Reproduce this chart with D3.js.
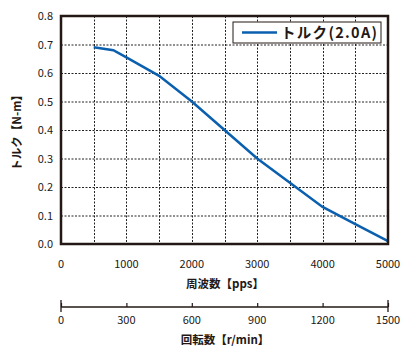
<!DOCTYPE html>
<html>
<head>
<meta charset="utf-8">
<script src="https://cdn.jsdelivr.net/npm/d3@7"></script>
<style>
body { margin:0; background:#fff; }
text { font-family: "Noto Sans CJK JP", "Noto Sans", sans-serif; fill:#231815; }
</style>
</head>
<body>
<svg width="416" height="360"></svg>
<script>
// torque curve
var pps = [500, 800, 1000, 1500, 2000, 2500, 3000, 3500, 4000, 4500, 5000];
var torque = [0.69, 0.68, 0.655, 0.59, 0.50, 0.40, 0.30, 0.215, 0.13, 0.07, 0.01];
var xTicks = [0, 1000, 2000, 3000, 4000, 5000];
var gridX = [500, 1000, 1500, 2000, 2500, 3000, 3500, 4000, 4500];
var yTicks = [0, 0.1, 0.2, 0.3, 0.4, 0.5, 0.6, 0.7, 0.8];
var rpmTicks = [0, 300, 600, 900, 1200, 1500];
var seriesName = "トルク(2.0A)";

var svg = d3.select("svg");
var ink = "#231815";
var blue = "#0a5fae";

var xScale = d3.scaleLinear().domain([0, 5000]).range([61, 388]);
var yScale = d3.scaleLinear().domain([0, 0.8]).range([244, 16]);
var rpmScale = d3.scaleLinear().domain([0, 1500]).range([61, 388]);

// grid
svg.append("g").selectAll("line").data(yTicks.slice(1, 8)).enter().append("line")
    .attr("x1", 61).attr("x2", 388)
    .attr("y1", function(d){ return yScale(d) + 0.5; })
    .attr("y2", function(d){ return yScale(d) + 0.5; })
    .attr("stroke", "#222").attr("stroke-width", 1).attr("stroke-dasharray", "2,1.5");
svg.append("g").selectAll("line").data(gridX).enter().append("line")
    .attr("y1", 16).attr("y2", 244)
    .attr("x1", function(d){ return Math.round(xScale(d)) + 0.5; })
    .attr("x2", function(d){ return Math.round(xScale(d)) + 0.5; })
    .attr("stroke", "#222").attr("stroke-width", 1).attr("stroke-dasharray", "2,1.5");

// curve
var line = d3.line()
    .x(function(d, i){ return xScale(pps[i]); })
    .y(function(d){ return yScale(d); });
svg.append("path").datum(torque)
    .attr("d", line)
    .attr("fill", "none").attr("stroke", blue).attr("stroke-width", 2.5);

// frame
svg.append("rect")
    .attr("x", 61).attr("y", 16).attr("width", 327).attr("height", 228)
    .attr("fill", "none").attr("stroke", ink).attr("stroke-width", 2.5);

// y labels
svg.append("g").selectAll("text").data(yTicks).enter().append("text")
    .attr("x", 53).attr("y", function(d){ return yScale(d) + 4; })
    .attr("text-anchor", "end").attr("font-size", 11)
    .text(function(d){ return d.toFixed(1); });

// x labels
svg.append("g").selectAll("text").data(xTicks).enter().append("text")
    .attr("x", function(d){ return xScale(d); }).attr("y", 268)
    .attr("text-anchor", "middle").attr("font-size", 11)
    .text(function(d){ return d; });

svg.append("text").attr("x", 225).attr("y", 288)
    .attr("text-anchor", "middle").attr("font-size", 11.5).attr("font-weight", "bold")
    .text("周波数【pps】");

svg.append("text")
    .attr("transform", "translate(21,130) rotate(-90)")
    .attr("text-anchor", "middle").attr("font-size", 11.5).attr("font-weight", "bold")
    .text("トルク【N-m】");

// rpm axis
var rpmAxis = d3.axisTop(rpmScale).tickValues(rpmTicks).tickSize(4).tickFormat("");
var ra = svg.append("g").attr("transform", "translate(0,307)").call(rpmAxis);
ra.select(".domain").remove();
ra.selectAll("line").attr("stroke", ink).attr("stroke-width", 1.2);
svg.append("line").attr("x1", 61).attr("x2", 388).attr("y1", 307).attr("y2", 307)
    .attr("stroke", ink).attr("stroke-width", 1.3);
svg.append("g").selectAll("line").data([0, 1500]).enter().append("line")
    .attr("x1", function(d){ return rpmScale(d); })
    .attr("x2", function(d){ return rpmScale(d); })
    .attr("y1", 300).attr("y2", 312)
    .attr("stroke", ink).attr("stroke-width", 1.3);
svg.append("g").selectAll("text").data(rpmTicks).enter().append("text")
    .attr("x", function(d){ return rpmScale(d); }).attr("y", 324)
    .attr("text-anchor", "middle").attr("font-size", 11)
    .text(function(d){ return d; });
svg.append("text").attr("x", 225).attr("y", 344)
    .attr("text-anchor", "middle").attr("font-size", 11.5).attr("font-weight", "bold")
    .text("回転数【r/min】");

// legend
svg.append("rect").attr("x", 233).attr("y", 22).attr("width", 148).attr("height", 21)
    .attr("fill", "#fff").attr("stroke", ink).attr("stroke-width", 1);
svg.append("line").attr("x1", 242).attr("x2", 277).attr("y1", 32.5).attr("y2", 32.5)
    .attr("stroke", blue).attr("stroke-width", 2.5);
svg.append("text").attr("x", 281).attr("y", 38)
    .attr("font-size", 14.5).attr("font-weight", "bold").attr("letter-spacing", 1.3)
    .text(seriesName);
</script>
</body>
</html>
